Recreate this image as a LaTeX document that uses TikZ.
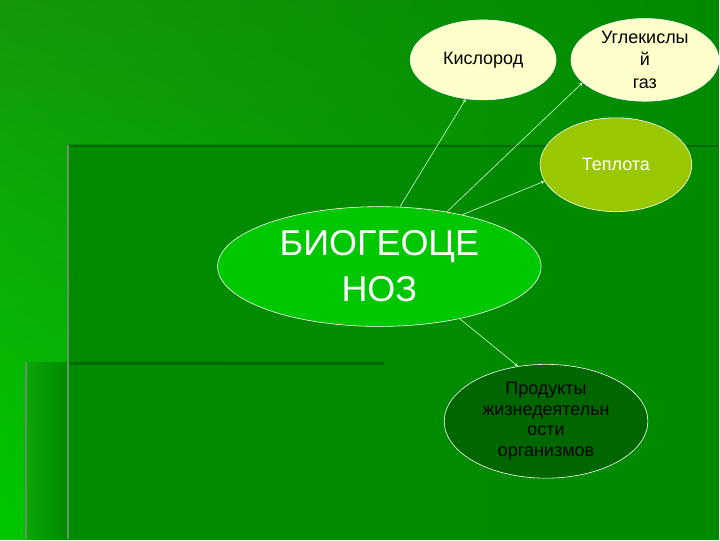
\documentclass[tikz,border=0pt]{standalone}
\usepackage{fontspec}
\setmainfont{Liberation Sans}
\usetikzlibrary{shapes.geometric,shadings}

\definecolor{bggreen}{RGB}{20,152,10}
\definecolor{bgdark}{RGB}{0,138,0}
\definecolor{bgbright}{RGB}{0,200,0}
\definecolor{edgegray}{RGB}{100,150,100}
\definecolor{linedark}{RGB}{0,105,0}
\definecolor{gasfill}{RGB}{255,255,204}
\definecolor{heatfill}{RGB}{153,200,0}
\definecolor{biofill}{RGB}{0,200,0}
\definecolor{prodfill}{RGB}{0,102,0}
\definecolor{arrowcol}{RGB}{210,255,210}

\tikzset{
  blob/.style={ellipse,draw=white,line width=0.6pt,inner sep=0pt,align=center},
  flow/.style={->,>=stealth,draw=arrowcol,line width=0.6pt}
}

\begin{document}
\begin{tikzpicture}[x=1pt,y=-1pt]
			% Background
			\shade[lower left=bgbright,upper left=bggreen,upper right=bgdark,lower right=bgdark]
			  (0,0) rectangle (720,540);
			\shade[left color=bggreen!70!bgbright,right color=bgdark] (25,363) rectangle (68,540);
			\shade[left color=bgdark!90!bggreen,right color=bgdark] (68,145) rectangle (720,540);
			\draw[linedark,line width=2.5pt] (70,146) -- (720,146);
			\draw[linedark,line width=2.5pt] (70,364) -- (385,364);
			\draw[edgegray,line width=2pt] (68,145) -- (68,540);
			\draw[edgegray,line width=2pt] (26,363) -- (26,540);

			% Ellipses
			\node[blob,fill=biofill,text=white,minimum width=324pt,minimum height=120pt,
			  font=\fontsize{36}{46}\selectfont] (Bio) at (380,267) {БИОГЕОЦЕ\\НОЗ};
			\node[blob,fill=gasfill,text=black,minimum width=146pt,minimum height=80pt,
			  font=\fontsize{18}{23}\selectfont] (Oxygen) at (484,60) {Кислород};
			\node[blob,fill=gasfill,text=black,minimum width=148pt,minimum height=80pt,
			  font=\fontsize{18}{23}\selectfont] (CarbonGas) at (646,60) {Углекислы\\й\\газ};
			\node[blob,fill=heatfill,text=white,minimum width=152pt,minimum height=94pt,
			  font=\fontsize{18}{23}\selectfont] (Heat) at (617,165) {Теплота};
			\node[blob,fill=prodfill,text=black,minimum width=204pt,minimum height=114pt,
			  font=\fontsize{18}{20.5}\selectfont] (Products) at (547,422) {Продукты\\жизнедеятельн\\ости\\организмов};

			\draw[flow] (Bio.71.6) to (Oxygen.246.6);
			\draw[flow] (Bio.39.4) to (CarbonGas.200.7);
			\draw[flow] (Bio.32) to (Heat.193.8);
			\draw[flow] (Bio.-33.8) to (Products.117);
			\end{tikzpicture}
\end{document}
